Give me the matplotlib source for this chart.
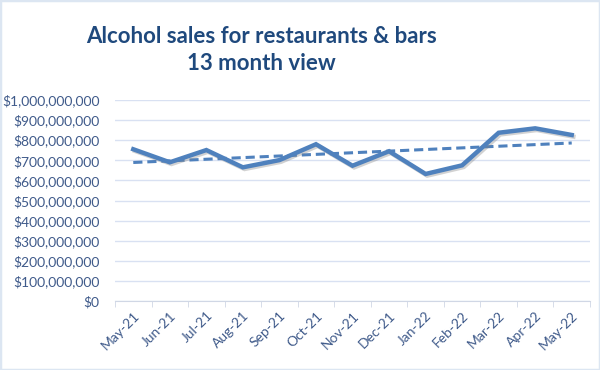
import matplotlib
matplotlib.use("Agg")
import matplotlib.pyplot as plt
import matplotlib.patheffects as pe
from matplotlib.ticker import FuncFormatter, FixedLocator
import numpy as np

months = ["May-21", "Jun-21", "Jul-21", "Aug-21", "Sep-21", "Oct-21", "Nov-21",
          "Dec-21", "Jan-22", "Feb-22", "Mar-22", "Apr-22", "May-22"]
sales = [755e6, 690e6, 751e6, 665e6, 701e6, 780e6, 673e6,
         745e6, 632e6, 675e6, 837e6, 859e6, 826e6]
title = "Alcohol sales for restaurants & bars\n13 month view"

plt.rcParams['font.family'] = ['Lato', 'DejaVu Sans']

fig = plt.figure(figsize=(6, 3.7), dpi=100)
ax = fig.add_axes([115 / 600, 1 - 301 / 370, 475 / 600, 201 / 370])

x = np.arange(len(months))
ax.plot(x, sales, color='#4F81BD', linewidth=3.2, solid_joinstyle='miter', zorder=3,
        path_effects=[pe.SimpleLineShadow(offset=(1.2, -1.2), shadow_color='gray', alpha=0.35),
                      pe.Normal()])

# linear trendline
k, b = np.polyfit(x, sales, 1)
ax.plot(x, k * x + b, color='#4F81BD', linewidth=2.2, linestyle=(0, (3, 1.6)), zorder=2)

ax.set_xlim(-0.5, len(months) - 0.5)
ax.set_ylim(0, 1e9)
ax.set_yticks(np.arange(0, 1.0001e9, 1e8))
ax.yaxis.set_major_formatter(FuncFormatter(lambda v, p: "${:,.0f}".format(v)))
ax.grid(axis='y', color='#D9E1F2', linewidth=1)
ax.set_axisbelow(True)

ax.set_xticks(x)
ax.set_xticklabels(months, rotation=45, ha='right', rotation_mode='anchor')
ax.xaxis.set_minor_locator(FixedLocator(np.arange(-0.5, len(months), 1)))
ax.tick_params(axis='x', which='major', length=0, pad=6, labelsize=10, labelcolor='#3F5A8A')
ax.tick_params(axis='x', which='minor', length=4, color='#D0D7E5', direction='out')
ax.tick_params(axis='y', length=0, pad=11, labelsize=10, labelcolor='#3F5A8A')

for s in ['top', 'right', 'left']:
    ax.spines[s].set_visible(False)
ax.spines['bottom'].set_color('#D0D7E5')

fig.text(261 / 600, 1 - 50 / 370, title, ha='center', va='center', fontsize=16,
         fontweight='bold', color='#1F497D', linespacing=1.4)

fig.patches.append(plt.Rectangle((0, 0), 1, 1, transform=fig.transFigure, fill=False,
                                 edgecolor='#DCE6F2', linewidth=2.5))

plt.savefig('out.png', dpi=100)
